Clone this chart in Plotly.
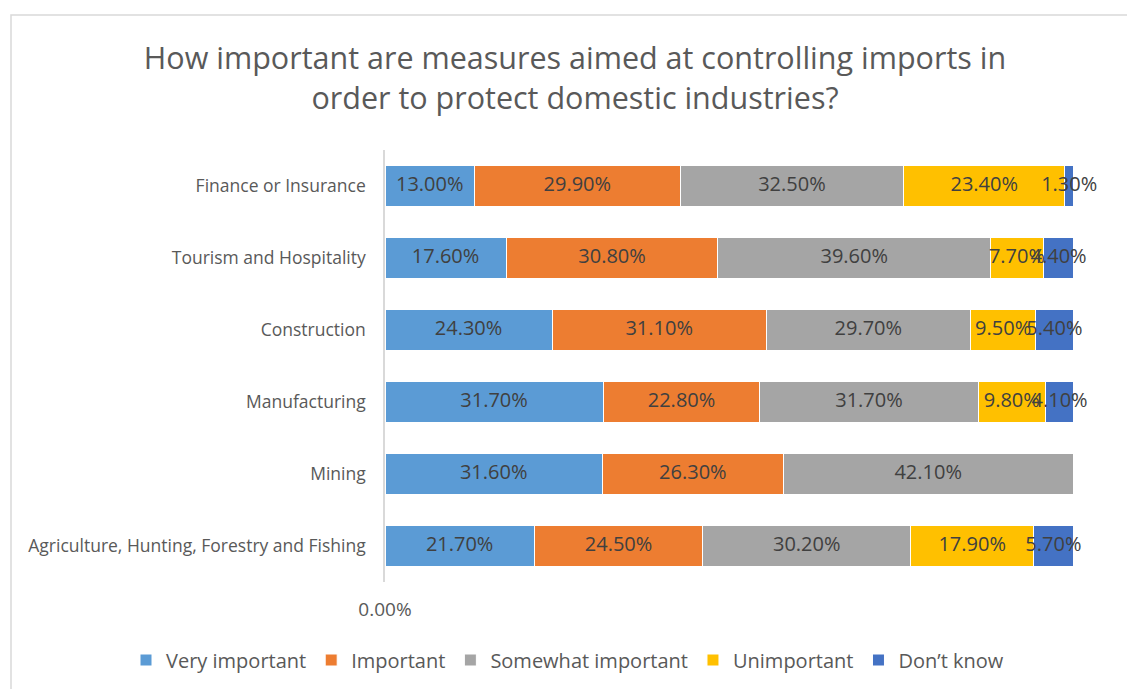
import plotly.graph_objects as go

categories = ["Finance or Insurance", "Tourism and Hospitality", "Construction",
              "Manufacturing", "Mining", "Agriculture, Hunting, Forestry and Fishing"]
series_names = ["Very important", "Important", "Somewhat important", "Unimportant", "Don’t know"]
very_important = [13.0, 17.6, 24.3, 31.7, 31.6, 21.7]
important = [29.9, 30.8, 31.1, 22.8, 26.3, 24.5]
somewhat_important = [32.5, 39.6, 29.7, 31.7, 42.1, 30.2]
unimportant = [23.4, 7.7, 9.5, 9.8, None, 17.9]
dont_know = [1.3, 4.4, 5.4, 4.1, None, 5.7]
colors = ["#5B9BD5", "#ED7D31", "#A5A5A5", "#FFC000", "#4472C4"]
title_text = "How important are measures aimed at controlling imports in<br>order to protect domestic industries?"

FONT = "Open Sans"
series = [very_important, important, somewhat_important, unimportant, dont_know]

fig = go.Figure()
for name, vals, col in zip(series_names, series, colors):
    fig.add_trace(go.Bar(
        y=categories, x=[v if v is not None else 0 for v in vals], name=name, orientation="h",
        marker=dict(color=col, line=dict(color="white", width=1)),
        textposition="none", hoverinfo="skip",
    ))

# data labels centred on each segment (positions derived from the data)
base = [0.0] * len(categories)
for vals in series:
    xs, ys, ts = [], [], []
    for i, v in enumerate(vals):
        if v is not None:
            xs.append(base[i] + v / 2)
            ys.append(categories[i])
            ts.append(f"{v:.2f}%")
            base[i] += v
    fig.add_trace(go.Scatter(
        x=xs, y=ys, text=ts, mode="text", textposition="middle center",
        textfont=dict(family=FONT, size=20, color="#404040"),
        showlegend=False, hoverinfo="skip", cliponaxis=False,
    ))

W, H = 1127, 689
L, R, T, B = 385, 54, 150, 107
pw, ph = W - L - R, H - T - B

fig.update_layout(
    width=W, height=H, barmode="stack", bargap=0.43,
    paper_bgcolor="white", plot_bgcolor="white",
    margin=dict(l=L, r=R, t=T, b=B, autoexpand=False),
    font=dict(family=FONT, color="#595959"),
    title=dict(text=title_text, x=575 / W, xanchor="center", xref="container",
               y=1 - 69 / H, yanchor="middle", yref="container",
               font=dict(family=FONT, size=30.5, color="#595959")),
    showlegend=True,
    legend=dict(orientation="h", xref="paper", x=(126 - L) / pw, xanchor="left",
                yref="paper", y=(H - B - 660) / ph, yanchor="middle",
                font=dict(family=FONT, size=20, color="#595959"),
                traceorder="normal", itemclick=False, bgcolor="rgba(0,0,0,0)"),
    xaxis=dict(range=[0, 100], showgrid=False, zeroline=False, showline=False,
               tickvals=[0], ticktext=["0.00%"], ticks="",
               ticklabelstandoff=14,
               tickfont=dict(family=FONT, size=19, color="#595959")),
    yaxis=dict(categoryorder="array", categoryarray=categories[::-1],
               showgrid=False, zeroline=False, showline=True,
               linecolor="#D9D9D9", linewidth=1.5, ticks="",
               ticklabelstandoff=14,
               tickfont=dict(family=FONT, size=17.5, color="#595959")),
    shapes=[dict(type="rect", xref="paper", yref="paper",
                 x0=(11 - L) / pw, x1=(1160 - L) / pw,
                 y0=(H - B - 740) / ph, y1=(H - B - 15) / ph,
                 line=dict(color="#D9D9D9", width=1.5), fillcolor="rgba(0,0,0,0)",
                 layer="below")],
)

fig.write_html("out.html")
